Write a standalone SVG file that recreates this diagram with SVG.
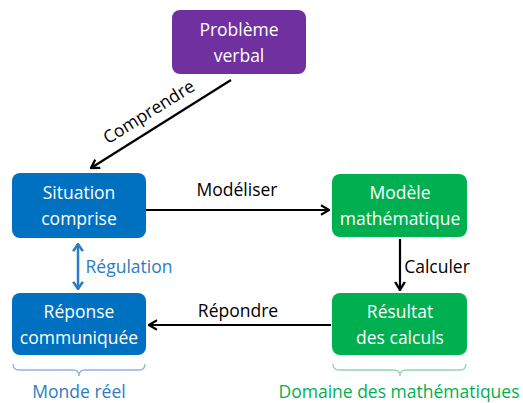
<svg xmlns="http://www.w3.org/2000/svg" width="523" height="403" viewBox="0 0 523 403">
<style>
.t{font-family:"Open Sans","Noto Sans",sans-serif;font-size:17.5px;text-anchor:middle}
.w{fill:#fff}
.k{fill:#000}
.line{stroke:#000;stroke-width:2.2;fill:none}
</style>
<defs>
<marker id="ah" viewBox="0 0 10 10" refX="9" refY="5" markerWidth="10" markerHeight="12" orient="auto-start-reverse" markerUnits="userSpaceOnUse" preserveAspectRatio="none">
<path d="M1,1 L9,5 L1,9" fill="none" stroke="#000" stroke-width="2"/>
</marker>
<marker id="ahb" viewBox="0 0 10 10" refX="9" refY="5" markerWidth="9" markerHeight="12" orient="auto-start-reverse" markerUnits="userSpaceOnUse" preserveAspectRatio="none">
<path d="M1,1 L9,5 L1,9" fill="none" stroke="#2B7CC4" stroke-width="2.2"/>
</marker>
</defs>
<rect width="523" height="403" fill="#fff"/>
<g id="probleme"><rect x="172" y="10" width="134" height="64" rx="8" fill="#7030A0"/><text class="t w" x="239" y="36">Problème</text><text class="t w" x="239" y="62">verbal</text></g>
<g id="situation"><rect x="12" y="173" width="134" height="65" rx="8" fill="#0070C0"/><text class="t w" x="79" y="199">Situation</text><text class="t w" x="79" y="225">comprise</text></g>
<g id="reponse"><rect x="12" y="293" width="134" height="62" rx="8" fill="#0070C0"/><text class="t w" x="79" y="318">Réponse</text><text class="t w" x="79" y="344">communiquée</text></g>
<g id="modele"><rect x="332" y="174" width="135" height="63" rx="8" fill="#00B050"/><text class="t w" x="400" y="199">Modèle</text><text class="t w" x="400" y="225">mathématique</text></g>
<g id="resultat"><rect x="332" y="293" width="135" height="62" rx="8" fill="#00B050"/><text class="t w" x="400" y="318">Résultat</text><text class="t w" x="400" y="344">des calculs</text></g>
<g id="connectors">
<line class="line" x1="231" y1="80" x2="91" y2="168" marker-end="url(#ah)"/>
<line class="line" x1="146" y1="210" x2="329" y2="210" marker-end="url(#ah)"/>
<line class="line" x1="400" y1="239" x2="400" y2="290" marker-end="url(#ah)"/>
<line class="line" x1="331" y1="325" x2="149" y2="325" marker-end="url(#ah)"/>
<line x1="78" y1="244" x2="78" y2="289" stroke="#2B7CC4" stroke-width="2.5" marker-start="url(#ahb)" marker-end="url(#ahb)"/>
</g>
<g id="labels">
<text class="t k" transform="translate(152,117) rotate(-32)">Comprendre</text>
<text class="t k" x="237" y="196">Modéliser</text>
<text class="t k" x="437" y="273">Calculer</text>
<text class="t k" x="238" y="317">Répondre</text>
<text class="t" x="129" y="273" fill="#2B7CC4">Régulation</text>
</g>
<g id="braces" fill="none" stroke-width="1.3">
<path d="M13,364 Q13,370 19,370 L73,370 Q79,370 79,376 Q79,370 85,370 L139,370 Q145,370 145,364" stroke="#8DB4E2"/>
<path d="M333,364 Q333,370 339,370 L394,370 Q400,370 400,376 Q400,370 406,370 L460,370 Q466,370 466,364" stroke="#92D8A8"/>
</g>
<text class="t" x="79" y="398" fill="#2B7CC4">Monde réel</text>
<text class="t" x="399" y="398" fill="#00B050">Domaine des mathématiques</text>
</svg>
